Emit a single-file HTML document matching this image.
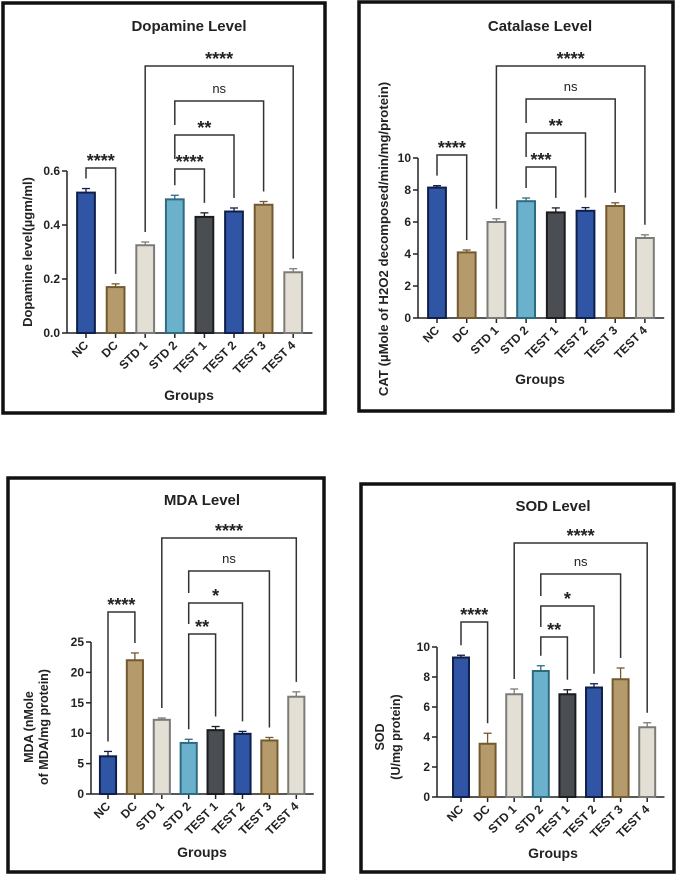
<!DOCTYPE html>
<html><head><meta charset="utf-8"><style>
html,body{margin:0;padding:0;background:#fff;}
svg{display:block;font-family:"Liberation Sans",Arial,sans-serif;}
text{font-weight:bold;fill:#222;}
</style></head><body>
<svg id="fig" width="685" height="882" viewBox="0 0 685 882" xmlns="http://www.w3.org/2000/svg"></svg>
<script>
const categories = ["NC","DC","STD 1","STD 2","TEST 1","TEST 2","TEST 3","TEST 4"];
const dopamineValues = [0.52,0.17,0.325,0.495,0.43,0.45,0.475,0.225];
const dopamineErrors = [0.015,0.012,0.012,0.015,0.015,0.013,0.012,0.013];
const dopamineTicks = [0,0.2,0.4,0.6];
const dopamineTickLabels = ["0.0","0.2","0.4","0.6"];
const catalaseValues = [8.15,4.1,6.0,7.3,6.6,6.7,7.0,5.0];
const catalaseErrors = [0.12,0.15,0.2,0.2,0.28,0.2,0.2,0.2];
const catalaseTicks = [0,2,4,6,8,10];
const mdaValues = [6.2,22,12.2,8.4,10.5,9.9,8.8,16];
const mdaErrors = [0.8,1.2,0.3,0.6,0.6,0.4,0.5,0.8];
const mdaTicks = [0,5,10,15,20,25];
const sodValues = [9.3,3.55,6.85,8.4,6.85,7.3,7.85,4.65];
const sodErrors = [0.15,0.7,0.35,0.35,0.3,0.25,0.75,0.3];
const sodTicks = [0,2,4,6,8,10];
const compPairs = [[0,1],[3,4],[3,5],[3,6],[2,7]];
const dopamineSig = ["****","****","**","ns","****"];
const catalaseSig = ["****","***","**","ns","****"];
const mdaSig = ["****","**","*","ns","****"];
const sodSig = ["****","**","*","ns","****"];

const fills = ["#2f55a4","#b59a6b","#e3dfd5","#6cb1cc","#4a4d52","#2f55a4","#b59a6b","#e3dfd5"];
const strokes = ["#0f1f4a","#73592f","#7b7b78","#2f6b80","#1b1c1f","#0f1f4a","#73592f","#7b7b78"];
const NS = "http://www.w3.org/2000/svg";
const svg = document.getElementById("fig");
function mk(tag, attrs, parent, txt){
  const e = document.createElementNS(NS, tag);
  for (const k in attrs) e.setAttribute(k, attrs[k]);
  if (txt !== undefined) e.textContent = txt;
  (parent || svg).appendChild(e);
  return e;
}
function panel(cfg){
  const g = mk("g", {});
  
  
  const box = mk("rect", {x:cfg.box[0], y:cfg.box[1], width:cfg.box[2], height:cfg.box[3], fill:"#fff", stroke:"#111", "stroke-width":3.5}, g);
  
  
  const t = mk("text", {x:cfg.titleX, y:cfg.titleY, "text-anchor":"middle", "font-size":15}, g, cfg.title);
  
  
  const ymax = cfg.ticks[cfg.ticks.length-1];
  const yS = v => cfg.y0 - (v / ymax) * (cfg.y0 - cfg.yTop);
  const xS = i => cfg.x0 + i * cfg.step;
  const ax = mk("g", {}, g);
  
  
  mk("line", {x1:cfg.axX, y1:cfg.y0, x2:cfg.axX, y2:yS(ymax), stroke:"#222", "stroke-width":1.5}, ax);
  cfg.ticks.forEach((v,i) => {
    mk("line", {x1:cfg.axX-5, y1:yS(v), x2:cfg.axX, y2:yS(v), stroke:"#222", "stroke-width":1.5}, ax);
    const tl = mk("text", {x:cfg.axX-7, y:yS(v)+4, "text-anchor":"end", "font-size":12}, ax, cfg.tickLabels ? cfg.tickLabels[i] : String(v));
    
    
  });
  const xa = mk("g", {}, g);
  
  
  mk("line", {x1:cfg.axX, y1:cfg.y0, x2:xS(categories.length-1)+cfg.step*0.65, y2:cfg.y0, stroke:"#222", "stroke-width":1.5}, xa);
  categories.forEach((c,i) => {
    const cx = xS(i);
    mk("line", {x1:cx, y1:cfg.y0, x2:cx, y2:cfg.y0+5, stroke:"#222", "stroke-width":1.5}, xa);
    const lt = mk("text", {x:cx+3, y:cfg.y0+13, "text-anchor":"end", "font-size":12, transform:`rotate(-45 ${cx+3} ${cfg.y0+13})`}, xa, c);
    
    
  });
  const bw = cfg.step * 0.6;
  cfg.values.forEach((v,i) => {
    const cx = xS(i), top = yS(v), et = yS(v + cfg.errors[i]);
    mk("line", {x1:cx, y1:top, x2:cx, y2:et, stroke:strokes[i], "stroke-width":1.3}, g);
    mk("line", {x1:cx-4, y1:et, x2:cx+4, y2:et, stroke:strokes[i], "stroke-width":1.3}, g);
    const b = mk("rect", {x:cx-bw/2, y:top, width:bw, height:cfg.y0-top, fill:fills[i], stroke:strokes[i], "stroke-width":2}, g);
    
    
  });
  compPairs.forEach((p,k) => {
    const yb = cfg.brY[k];
    const xa1 = xS(p[0]), xb1 = xS(p[1]);
    let lb = yS(cfg.values[p[0]] + cfg.errors[p[0]]) - 10;
    let rb = yS(cfg.values[p[1]] + cfg.errors[p[1]]) - 10;
    if (p[0]===3 && k!==1) lb = Math.min(lb, cfg.brY[k===2?1:2] - 10);
    const br = mk("path", {d:`M${xa1},${lb} V${yb} H${xb1} V${rb}`, fill:"none", stroke:"#333", "stroke-width":1.5}, g);
    
    
    const s = cfg.sig[k];
    const st = mk("text", {x:(xa1+xb1)/2, y: s==="ns" ? yb-8 : yb-1, "text-anchor":"middle", "font-size": s==="ns" ? 13 : 18, style: s==="ns" ? "font-weight:normal" : ""}, g, s);
    
    
  });
  const gl = mk("text", {x:cfg.groupsX, y:cfg.groupsY, "text-anchor":"middle", "font-size":14}, g, "Groups");
  
  
  cfg.ylab.forEach((l,i) => {
    const yx = cfg.ylabX[i];
    const yl = mk("text", {x:yx, y:cfg.ylabY, "text-anchor":"middle", "font-size":cfg.ylabSize, transform:`rotate(-90 ${yx} ${cfg.ylabY})`}, g, l);
    
    
  });
}
panel({name:"dopamine-panel", box:[3,3,322,410], title:"Dopamine Level", titleX:189, titleY:31,
  axX:67, y0:333, yTop:171, x0:86, step:29.6, ticks:dopamineTicks, tickLabels:dopamineTickLabels,
  values:dopamineValues, errors:dopamineErrors, sig:dopamineSig, brY:[168,169,135,101,66],
  groupsX:189, groupsY:400, ylab:["Dopamine level(µgm/ml)"], ylabX:[32], ylabY:252, ylabSize:13});
panel({name:"catalase-panel", box:[359,2,314,409], title:"Catalase Level", titleX:540, titleY:31,
  axX:418, y0:318, yTop:158, x0:437, step:29.7, ticks:catalaseTicks,
  values:catalaseValues, errors:catalaseErrors, sig:catalaseSig, brY:[155,167,133,99,66],
  groupsX:540, groupsY:384, ylab:["CAT (µMole of H2O2 decomposed/min/mg/protein)"], ylabX:[388], ylabY:239, ylabSize:13.2});
panel({name:"mda-panel", box:[8,478,316,394], title:"MDA Level", titleX:202, titleY:505,
  axX:91, y0:794, yTop:642, x0:108, step:26.9, ticks:mdaTicks,
  values:mdaValues, errors:mdaErrors, sig:mdaSig, brY:[612,634,603,571,538],
  groupsX:202, groupsY:857, ylab:["MDA (nMole","of MDA/mg protein)"], ylabY:727, ylabSize:12.5, ylabX:[33,48]});
panel({name:"sod-panel", box:[361,484,313,388], title:"SOD Level", titleX:553, titleY:511,
  axX:437, y0:797, yTop:647, x0:461, step:26.6, ticks:sodTicks,
  values:sodValues, errors:sodErrors, sig:sodSig, brY:[622,637,606,574,543],
  groupsX:553, groupsY:858, ylab:["SOD","(U/mg protein)"], ylabY:737, ylabSize:12.5, ylabX:[384,400]});
</script>
</body></html>
